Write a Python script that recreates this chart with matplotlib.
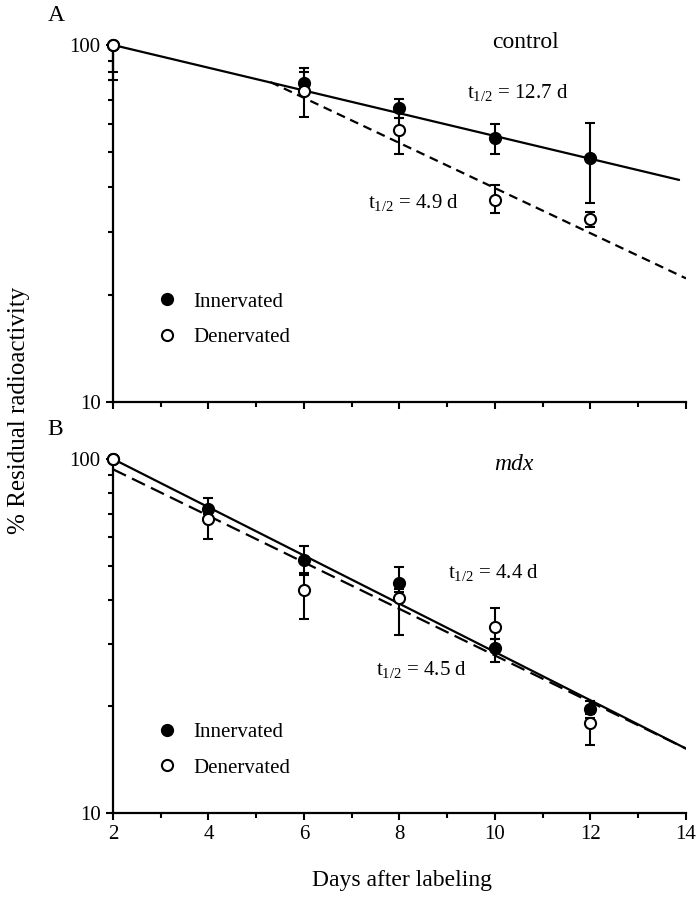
import numpy as np
import matplotlib
matplotlib.use("Agg")
import matplotlib.pyplot as plt
from matplotlib.lines import Line2D
from matplotlib.ticker import LogLocator, NullFormatter, FixedLocator, FixedFormatter

plt.rcParams['font.family'] = ['Liberation Serif', 'DejaVu Serif']
plt.rcParams['mathtext.fontset'] = 'custom'
plt.rcParams['mathtext.rm'] = 'Liberation Serif'
plt.rcParams['mathtext.it'] = 'Liberation Serif:italic'
plt.rcParams['mathtext.default'] = 'regular'

# ---- data ----
days = [2, 6, 8, 10, 12]
days_b = [2, 4, 6, 8, 10, 12]

# panel A, control
ctrl_inn = [100, 78, 66.6, 55, 48.3]
ctrl_inn_hi = [100, 86, 70.5, 60, 60.6]
ctrl_inn_lo = [84, 74, 62.5, 49.5, 36.2]
ctrl_den = [100, 74.5, 57.8, 36.8, 32.6]
ctrl_den_hi = [100, 84, 62.5, 40.5, 34]
ctrl_den_lo = [80, 63, 49.5, 33.8, 31]
ctrl_inn_fit_x = [2, 13.85]
ctrl_inn_fit_y = [100, 41.9]
ctrl_den_fit_x = [5.3, 14]
ctrl_den_fit_y = [78.7, 22.2]

# panel B, mdx
mdx_inn = [100, 72.1, 51.9, 44.7, 29.3, 19.7]
mdx_inn_hi = [100, 77.4, 56.9, 49.4, 31, 20.7]
mdx_inn_lo = [100, 68, 47.7, 42, 26.7, 19]
mdx_den = [100, 67.7, 42.5, 40.6, 33.6, 17.9]
mdx_den_hi = [100, 70, 47, 43, 37.9, 18.5]
mdx_den_lo = [100, 59.3, 35.3, 31.8, 31, 15.6]
mdx_inn_fit_x = [2, 14]
mdx_inn_fit_y = [100, 15.2]
mdx_den_fit_x = [2, 14]
mdx_den_fit_y = [93.5, 15.2]

fig = plt.figure(figsize=(7, 8.99), dpi=100)
axA = fig.add_axes([0.1614, 0.5528, 0.8186, 0.3972])
axB = fig.add_axes([0.1614, 0.0957, 0.8186, 0.3938])

lw = 1.6


def panel(ax, x, inn, inn_hi, inn_lo, den, den_hi, den_lo, fits, leg_y):
    for fx, fy, ls in fits:
        ax.plot(fx, fy, color='black', lw=lw, ls=ls, zorder=2)
    inn = np.array(inn); den = np.array(den)
    ax.errorbar(x, inn, yerr=[inn - np.array(inn_lo), np.array(inn_hi) - inn],
                fmt='none', ecolor='black', elinewidth=1.5, capsize=3.5,
                capthick=1.5, zorder=3, clip_on=False)
    ax.errorbar(x, den, yerr=[den - np.array(den_lo), np.array(den_hi) - den],
                fmt='none', ecolor='black', elinewidth=1.5, capsize=3.5,
                capthick=1.5, zorder=3, clip_on=False)
    ax.plot(x, inn, 'o', ms=8, mfc='black', mec='black', mew=1.5,
            zorder=4, clip_on=False)
    ax.plot(x, den, 'o', ms=8, mfc='white', mec='black', mew=1.5,
            zorder=5, clip_on=False)

    ax.set_yscale('log')
    ax.set_ylim(10, 100)
    ax.set_xlim(2, 14)
    ax.yaxis.set_major_locator(FixedLocator([10, 100]))
    ax.yaxis.set_major_formatter(FixedFormatter(['10', '100']))
    ax.yaxis.set_minor_locator(LogLocator(base=10, subs=np.arange(2, 10)))
    ax.yaxis.set_minor_formatter(NullFormatter())
    ax.set_xticks(range(2, 15, 2))
    ax.set_xticks(range(3, 14, 2), minor=True)
    for s in ['top', 'right']:
        ax.spines[s].set_visible(False)
    for s in ['left', 'bottom']:
        ax.spines[s].set_linewidth(1.6)
    ax.tick_params(which='major', direction='out', length=5, width=1.5,
                   labelsize=15, pad=4)
    ax.tick_params(which='minor', direction='out', length=3.5, width=1.5)

    handles = [Line2D([], [], ls='none', marker='o', ms=8, mfc='black',
                      mec='black', mew=1.5),
               Line2D([], [], ls='none', marker='o', ms=8, mfc='white',
                      mec='black', mew=1.5)]
    ax.legend(handles, ['Innervated', 'Denervated'], loc='center left',
              bbox_to_anchor=(0.079, leg_y), frameon=False, fontsize=15,
              handlelength=0.8, handletextpad=0.9, labelspacing=0.75,
              borderpad=0, borderaxespad=0, numpoints=1)


panel(axA, days, ctrl_inn, ctrl_inn_hi, ctrl_inn_lo,
      ctrl_den, ctrl_den_hi, ctrl_den_lo,
      [(ctrl_inn_fit_x, ctrl_inn_fit_y, '-'),
       (ctrl_den_fit_x, ctrl_den_fit_y, (0, (4, 2.6)))], 0.231)
axA.tick_params(axis='x', labelbottom=False)

panel(axB, days_b, mdx_inn, mdx_inn_hi, mdx_inn_lo,
      mdx_den, mdx_den_hi, mdx_den_lo,
      [(mdx_inn_fit_x, mdx_inn_fit_y, '-'),
       (mdx_den_fit_x, mdx_den_fit_y, (0, (6.5, 3)))], 0.177)

# annotations
axA.text(0.72, 1.008, 'control', transform=axA.transAxes, fontsize=17,
         ha='center', va='center')
axA.text(0.617, 0.866, r't$_{1/2}$ = 12.7 d', transform=axA.transAxes,
         fontsize=15, ha='left', va='center')
axA.text(0.445, 0.56, r't$_{1/2}$ = 4.9 d', transform=axA.transAxes,
         fontsize=15, ha='left', va='center')
axB.text(0.70, 0.985, 'mdx', transform=axB.transAxes, fontsize=17,
         style='italic', ha='center', va='center')
axB.text(0.585, 0.678, r't$_{1/2}$ = 4.4 d', transform=axB.transAxes,
         fontsize=15, ha='left', va='center')
axB.text(0.459, 0.404, r't$_{1/2}$ = 4.5 d', transform=axB.transAxes,
         fontsize=15, ha='left', va='center')

fig.text(0.081, 0.983, 'A', fontsize=17, ha='center', va='center')
fig.text(0.079, 0.522, 'B', fontsize=17, ha='center', va='center')
fig.text(0.027, 0.543, '% Residual radioactivity', fontsize=18,
         rotation=90, ha='center', va='center')
fig.text(0.575, 0.021, 'Days after labeling', fontsize=17,
         ha='center', va='center')

fig.savefig('out.png', dpi=100)
